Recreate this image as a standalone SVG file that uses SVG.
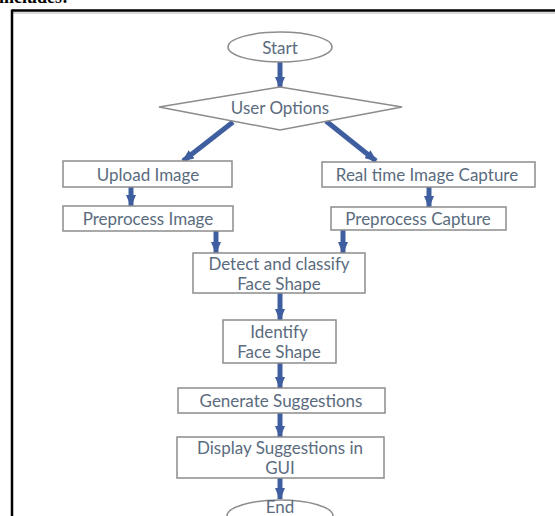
<svg xmlns="http://www.w3.org/2000/svg" width="555" height="516" viewBox="0 0 555 516">
<style>
.box{fill:#ffffff;stroke:#8c8c8c;stroke-width:1.5}
.t{font-family:Lato,"Open Sans","Liberation Sans",sans-serif;font-size:17px;fill:#5a6b7e;text-anchor:middle;dominant-baseline:central}
.c{stroke:#3f5e9f;stroke-width:5;fill:none;marker-end:url(#ah)}
</style>
<defs>
<marker id="ah" markerUnits="userSpaceOnUse" markerWidth="12" markerHeight="10" viewBox="0 0 12 10" refX="11" refY="5" orient="auto">
<path d="M0,0 L12,5 L0,10 Z" fill="#3f5e9f"/>
</marker>
</defs>
<rect x="0" y="0" width="555" height="516" fill="#ffffff"/>
<text x="68" y="3" font-family="Liberation Serif, serif" font-weight="bold" font-size="18" text-anchor="end" fill="#000">includes:</text>
<g id="frame">
<line x1="12" y1="10.5" x2="555" y2="10.5" stroke="#000" stroke-width="2.5"/>
<line x1="12" y1="13" x2="555" y2="13" stroke="#cccccc" stroke-width="1.5"/>
<line x1="12" y1="9.5" x2="12" y2="516" stroke="#000" stroke-width="2.5"/>
</g>
<g id="connectors">
<line class="c" x1="280" y1="62" x2="280" y2="88"/>
<line class="c" x1="233" y1="122" x2="183" y2="161"/>
<line class="c" x1="326" y1="121" x2="376" y2="161"/>
<line class="c" x1="131" y1="187" x2="131" y2="206"/>
<line class="c" x1="429" y1="187" x2="429" y2="207"/>
<line class="c" x1="216" y1="231" x2="216" y2="253"/>
<line class="c" x1="343" y1="230" x2="343" y2="253"/>
<line class="c" x1="280" y1="293" x2="280" y2="320"/>
<line class="c" x1="280" y1="363" x2="280" y2="388"/>
<line class="c" x1="280" y1="413" x2="280" y2="437"/>
<line class="c" x1="280" y1="478" x2="280" y2="499"/>
</g>
<g id="start">
<ellipse class="box" cx="280" cy="47" rx="52" ry="15"/>
<text class="t" x="280" y="47">Start</text>
</g>
<g id="user-options">
<polygon class="box" points="159,107 280,87 402,107 280,130"/>
<text class="t" x="280" y="107">User Options</text>
</g>
<g id="upload-image">
<rect class="box" x="63" y="161" width="169" height="26"/>
<text class="t" x="148" y="174">Upload Image</text>
</g>
<g id="real-time-capture">
<rect class="box" x="322" y="162" width="213" height="25"/>
<text class="t" x="427" y="174.5">Real time Image Capture</text>
</g>
<g id="preprocess-image">
<rect class="box" x="63" y="206" width="170" height="25"/>
<text class="t" x="148" y="218.5">Preprocess Image</text>
</g>
<g id="preprocess-capture">
<rect class="box" x="331" y="207" width="175" height="23"/>
<text class="t" x="418" y="218.5">Preprocess Capture</text>
</g>
<g id="detect-classify">
<rect class="box" x="193" y="253" width="172" height="40"/>
<text class="t" x="279" y="263.5">Detect and classify</text>
<text class="t" x="279" y="283.5">Face Shape</text>
</g>
<g id="identify">
<rect class="box" x="223" y="320" width="113" height="43"/>
<text class="t" x="279" y="331.5">Identify</text>
<text class="t" x="279" y="351.5">Face Shape</text>
</g>
<g id="generate">
<rect class="box" x="178" y="388" width="207" height="25"/>
<text class="t" x="281" y="400.5">Generate Suggestions</text>
</g>
<g id="display">
<rect class="box" x="177" y="437" width="207" height="41"/>
<text class="t" x="280" y="447.5">Display Suggestions in</text>
<text class="t" x="280" y="467.5">GUI</text>
</g>
<g id="end">
<ellipse class="box" cx="280" cy="516" rx="53" ry="16"/>
<text class="t" x="280" y="506">End</text>
</g>
</svg>
